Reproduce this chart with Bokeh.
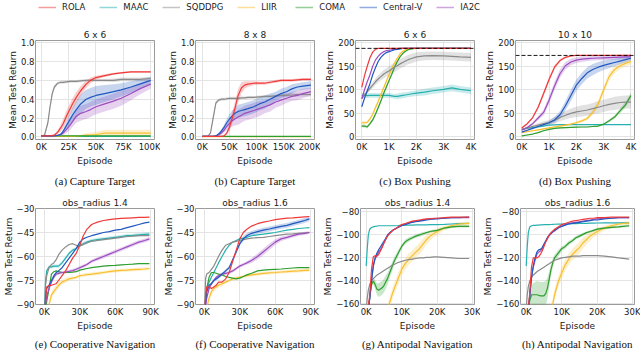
import numpy as np
from bokeh.plotting import figure
from bokeh.layouts import column, row
from bokeh.models import Range1d, FixedTicker, Span, Title, Legend, LegendItem
from bokeh.embed import file_html
from bokeh.resources import INLINE

METHODS = ["ROLA", "MAAC", "SQDDPG", "LIIR", "COMA", "Central-V", "IA2C"]
COLORS = {"ROLA": "#f03a3a", "MAAC": "#26b0b0", "SQDDPG": "#8a8a8a", "LIIR": "#f8c030",
          "COMA": "#2e9e2e", "Central-V": "#2058c0", "IA2C": "#9c4dbf"}
DRAW_ORDER = ["MAAC", "LIIR", "COMA", "SQDDPG", "IA2C", "Central-V", "ROLA"]

# ---------------- (a) Capture Target 6 x 6 ----------------
X_A = [0, 3, 6, 8, 10, 12, 15, 18, 20, 23, 26, 29, 32, 36, 41, 45, 50, 58, 66, 73, 82, 90, 100]
A_ROLA = [0.01, 0.01, 0.01, 0.01, 0.015, 0.02, 0.05, 0.1, 0.14, 0.22, 0.29, 0.36, 0.42, 0.49, 0.56, 0.6, 0.63, 0.65, 0.67, 0.68, 0.69, 0.69, 0.69]
A_MAAC = [0.005, 0.005, 0.005, 0.005, 0.005, 0.005, 0.005, 0.005, 0.005, 0.005, 0.005, 0.005, 0.005, 0.005, 0.005, 0.005, 0.005, 0.005, 0.005, 0.005, 0.005, 0.005, 0.005]
A_SQDDPG = [0.01, 0.02, 0.15, 0.32, 0.46, 0.53, 0.57, 0.58, 0.58, 0.585, 0.59, 0.59, 0.59, 0.595, 0.6, 0.6, 0.6, 0.6, 0.6, 0.61, 0.61, 0.61, 0.62]
A_LIIR = [0.005, 0.005, 0.005, 0.005, 0.005, 0.005, 0.005, 0.005, 0.005, 0.005, 0.005, 0.005, 0.008, 0.01, 0.02, 0.02, 0.025, 0.04, 0.04, 0.04, 0.04, 0.04, 0.04]
A_COMA = [0.01, 0.01, 0.01, 0.01, 0.01, 0.01, 0.01, 0.01, 0.01, 0.01, 0.01, 0.01, 0.01, 0.01, 0.01, 0.01, 0.01, 0.01, 0.01, 0.01, 0.01, 0.01, 0.01]
A_CENTRALV = [0.01, 0.01, 0.01, 0.01, 0.01, 0.012, 0.015, 0.03, 0.06, 0.12, 0.18, 0.24, 0.29, 0.35, 0.4, 0.42, 0.44, 0.46, 0.48, 0.5, 0.53, 0.56, 0.6]
A_IA2C = [0.01, 0.01, 0.01, 0.01, 0.01, 0.01, 0.015, 0.025, 0.04, 0.08, 0.12, 0.17, 0.22, 0.25, 0.27, 0.29, 0.32, 0.35, 0.38, 0.41, 0.46, 0.51, 0.56]
A_ROLA_SD = [0, 0, 0, 0, 0.005, 0.01, 0.02, 0.04, 0.05, 0.06, 0.06, 0.06, 0.06, 0.05, 0.04, 0.03, 0.02, 0.015, 0.01, 0.01, 0.01, 0.01, 0.01]
A_SQDDPG_SD = [0, 0.005, 0.02, 0.03, 0.03, 0.02, 0.015, 0.015, 0.015, 0.015, 0.015, 0.015, 0.015, 0.015, 0.015, 0.015, 0.015, 0.015, 0.02, 0.02, 0.02, 0.02, 0.02]
A_CENTRALV_SD = [0, 0, 0, 0, 0, 0, 0.005, 0.01, 0.02, 0.04, 0.06, 0.08, 0.09, 0.1, 0.1, 0.1, 0.1, 0.09, 0.08, 0.07, 0.06, 0.05, 0.04]
A_IA2C_SD = [0, 0, 0, 0, 0, 0, 0.005, 0.01, 0.02, 0.04, 0.05, 0.06, 0.07, 0.08, 0.08, 0.08, 0.08, 0.08, 0.08, 0.08, 0.07, 0.06, 0.05]
A_LIIR_SD = [0, 0, 0, 0, 0, 0, 0, 0, 0, 0, 0, 0, 0.005, 0.01, 0.02, 0.025, 0.03, 0.035, 0.035, 0.035, 0.035, 0.035, 0.035]

# ---------------- (b) Capture Target 8 x 8 ----------------
X_B = [0, 10, 15, 20, 25, 30, 35, 40, 45, 50, 55, 60, 66, 72, 78, 84, 95, 105, 115, 125, 135, 145, 155, 165, 175, 185, 200]
B_ROLA = [0.005, 0.005, 0.005, 0.005, 0.005, 0.005, 0.005, 0.01, 0.04, 0.1, 0.2, 0.3, 0.44, 0.52, 0.55, 0.56, 0.57, 0.57, 0.57, 0.58, 0.59, 0.6, 0.6, 0.6, 0.605, 0.61, 0.61]
B_MAAC = [0.004, 0.004, 0.004, 0.004, 0.004, 0.004, 0.004, 0.004, 0.004, 0.004, 0.004, 0.004, 0.004, 0.004, 0.004, 0.004, 0.004, 0.004, 0.004, 0.004, 0.004, 0.004, 0.004, 0.004, 0.004, 0.004, 0.004]
B_SQDDPG = [0.005, 0.005, 0.04, 0.2, 0.36, 0.39, 0.4, 0.4, 0.405, 0.41, 0.41, 0.41, 0.41, 0.415, 0.415, 0.42, 0.42, 0.425, 0.43, 0.43, 0.435, 0.44, 0.44, 0.445, 0.45, 0.45, 0.45]
B_LIIR = [0.003, 0.003, 0.003, 0.003, 0.003, 0.003, 0.003, 0.003, 0.003, 0.003, 0.003, 0.003, 0.003, 0.003, 0.003, 0.003, 0.003, 0.003, 0.003, 0.003, 0.003, 0.003, 0.003, 0.003, 0.003, 0.003, 0.003]
B_COMA = [0.005, 0.005, 0.005, 0.005, 0.005, 0.005, 0.005, 0.005, 0.005, 0.005, 0.005, 0.005, 0.005, 0.005, 0.005, 0.005, 0.005, 0.005, 0.005, 0.005, 0.005, 0.005, 0.005, 0.005, 0.005, 0.005, 0.005]
B_CENTRALV = [0.005, 0.005, 0.005, 0.005, 0.01, 0.03, 0.06, 0.1, 0.15, 0.19, 0.22, 0.25, 0.27, 0.28, 0.29, 0.3, 0.32, 0.35, 0.37, 0.4, 0.43, 0.46, 0.48, 0.51, 0.53, 0.54, 0.55]
B_IA2C = [0.005, 0.005, 0.005, 0.005, 0.01, 0.02, 0.04, 0.07, 0.11, 0.14, 0.17, 0.19, 0.21, 0.23, 0.25, 0.26, 0.28, 0.3, 0.32, 0.34, 0.37, 0.39, 0.41, 0.43, 0.44, 0.46, 0.48]
B_ROLA_SD = [0, 0, 0, 0, 0, 0, 0, 0.005, 0.02, 0.04, 0.06, 0.07, 0.07, 0.06, 0.04, 0.03, 0.02, 0.015, 0.015, 0.015, 0.015, 0.015, 0.015, 0.015, 0.015, 0.015, 0.015]
B_SQDDPG_SD = [0, 0, 0.01, 0.03, 0.02, 0.015, 0.015, 0.015, 0.015, 0.015, 0.015, 0.015, 0.015, 0.015, 0.015, 0.015, 0.015, 0.015, 0.015, 0.015, 0.015, 0.015, 0.02, 0.02, 0.02, 0.02, 0.02]
B_CENTRALV_SD = [0, 0, 0, 0, 0.005, 0.01, 0.02, 0.03, 0.04, 0.05, 0.06, 0.06, 0.07, 0.07, 0.07, 0.07, 0.07, 0.07, 0.07, 0.06, 0.05, 0.05, 0.05, 0.05, 0.04, 0.04, 0.04]
B_IA2C_SD = [0, 0, 0, 0, 0.005, 0.01, 0.02, 0.03, 0.04, 0.05, 0.06, 0.07, 0.08, 0.08, 0.08, 0.08, 0.08, 0.08, 0.07, 0.07, 0.06, 0.06, 0.05, 0.05, 0.05, 0.05, 0.04]

# ---------------- (c) Box Pushing 6 x 6 ----------------
X_C = [0, 0.1, 0.2, 0.3, 0.4, 0.5, 0.6, 0.7, 0.8, 0.9, 1.0, 1.1, 1.2, 1.3, 1.4, 1.5, 1.6, 1.7, 1.8, 2.0, 2.3, 2.6, 3.0, 3.3, 3.6, 4.0]
C_ROLA = [105, 130, 150, 168, 180, 186, 188, 188, 188, 188, 188, 188, 188, 188, 188, 188, 188, 188, 188, 188, 188, 188, 188, 188, 188, 188]
C_MAAC = [88, 88, 87.5, 88, 88, 88, 88, 88, 88, 88, 88, 87, 86, 86, 87, 88, 89, 90, 91, 93, 95, 98, 101, 104, 101, 98]
C_SQDDPG = [81, 89, 96, 103, 110, 117, 123, 128, 133, 137, 140, 144, 148, 151, 155, 158, 161, 164, 166, 170, 172, 172.5, 172, 171, 170, 169]
C_LIIR = [30, 30, 31, 38, 48, 62, 75, 90, 104, 118, 132, 145, 157, 167, 176, 182, 185, 187, 188, 188, 188, 188, 188, 188, 188, 188]
C_COMA = [23, 23, 21, 28, 36, 48, 62, 76, 92, 106, 120, 133, 148, 160, 170, 177, 182, 185, 187, 188, 188, 188, 188, 188, 188, 188]
C_CENTRALV = [64, 82, 98, 113, 132, 147, 160, 169, 175, 179, 181, 183, 185, 186, 187, 188, 188, 188, 188, 188, 188, 188, 188, 188, 188, 188]
C_IA2C = [81, 100, 117, 132, 150, 163, 171, 177, 181, 183, 184, 185, 186, 187, 188, 188, 188, 188, 188, 188, 188, 188, 188, 188, 188, 188]
C_SQDDPG_SD = [2, 3, 4, 5, 6, 7, 8, 8, 9, 9, 10, 10, 10, 10, 10, 10, 10, 10, 10, 10, 9, 9, 9, 9, 9, 9]
C_MAAC_SD = [5, 5, 5, 5, 5, 5, 5, 5, 5, 5, 5, 5, 5, 6, 6, 6, 6, 6, 6, 6, 7, 7, 7, 7, 7, 7]
C_LIIR_SD = [3, 3, 3, 3, 4, 4, 4, 4, 4, 4, 4, 3, 3, 2, 2, 1, 1, 1, 0, 0, 0, 0, 0, 0, 0, 0]
C_COMA_SD = [3, 3, 3, 3, 4, 4, 4, 4, 4, 4, 4, 3, 3, 2, 2, 1, 1, 1, 0, 0, 0, 0, 0, 0, 0, 0]
C_OPTIMAL = 188

# ---------------- (d) Box Pushing 10 x 10 ----------------
X_D = [0, 0.2, 0.4, 0.6, 0.8, 1.0, 1.2, 1.4, 1.6, 1.8, 2.0, 2.2, 2.4, 2.6, 2.8, 3.0, 3.2, 3.4, 3.6, 3.8, 4.0]
D_ROLA = [19, 28, 41, 63, 92, 122, 148, 162, 169, 172, 173, 173, 173, 173, 173, 173, 173, 173, 173, 173, 173]
D_MAAC = [16, 18, 20, 21, 23, 25, 25.5, 26, 26, 26, 26, 26, 26, 26, 26, 26, 26, 26, 26, 26, 26]
D_SQDDPG = [16, 19, 22, 25, 28, 30, 35, 41, 46, 50, 53, 55, 57, 60, 63, 66, 69, 71, 73, 74, 74]
D_LIIR = [9, 11, 13, 15, 17, 19, 21, 23, 25, 27, 30, 34, 39, 52, 70, 100, 128, 143, 151, 156, 160]
D_COMA = [2, 4, 6, 9, 13, 16, 18, 19, 19.5, 20, 20.5, 21, 21, 22, 23, 27, 34, 42, 55, 68, 88]
D_CENTRALV = [10, 14, 18, 22, 26, 30, 36, 47, 66, 88, 110, 124, 136, 143, 148, 152, 155, 158, 161, 164, 167]
D_IA2C = [14, 20, 28, 40, 52, 78, 108, 134, 151, 159, 163, 165, 166, 167, 167.5, 168, 168.5, 169, 169.5, 170, 170]
D_ROLA_SD = [2, 2, 3, 4, 5, 5, 4, 3, 2, 1, 1, 1, 1, 1, 1, 1, 1, 1, 1, 1, 1]
D_IA2C_SD = [2, 2, 3, 4, 6, 8, 9, 9, 8, 7, 6, 6, 5, 5, 5, 5, 5, 5, 5, 5, 5]
D_CENTRALV_SD = [1, 1, 2, 2, 3, 4, 6, 8, 10, 12, 12, 12, 12, 12, 11, 10, 9, 8, 7, 6, 5]
D_SQDDPG_SD = [2, 2, 3, 4, 5, 6, 7, 8, 9, 10, 11, 12, 12, 12, 13, 13, 13, 14, 14, 14, 14]
D_LIIR_SD = [1, 1, 1, 1, 1, 1, 2, 2, 2, 2, 3, 3, 4, 5, 7, 8, 9, 8, 7, 6, 6]
D_COMA_SD = [1, 1, 1, 1, 1, 1, 1, 1, 1, 1, 1, 1, 1, 1, 2, 2, 3, 4, 5, 6, 7]
D_OPTIMAL = 173

# ---------------- (e), (f) Cooperative Navigation ----------------
X_COOP = [0, 1, 2, 4, 6, 8, 10, 12, 15, 18, 21, 24, 27, 30, 33, 36, 40, 45, 50, 55, 60, 65, 70, 75, 80, 85, 89]
E_ROLA = [-100, -88, -79, -78, -78, -77.5, -77, -75, -72, -69, -65, -61, -58, -53, -47, -43, -40, -38.5, -37.5, -37, -36.5, -36.2, -36, -35.8, -35.6, -35.5, -35.4]
E_MAAC = [-100, -75, -69, -66.5, -66.5, -66, -66, -66, -64, -61, -58, -56, -55, -53, -52, -51, -50, -49.5, -49, -48.5, -48, -47.5, -47, -46.8, -46.5, -46.2, -46]
E_SQDDPG = [-100, -78, -72, -67, -65, -64, -62, -59, -56, -54, -52.5, -52, -53, -53.5, -52.5, -51.5, -50.5, -50, -49.5, -49, -48.5, -48, -47.5, -47.3, -47, -47, -47]
E_LIIR = [-110, -100, -95, -90, -84, -82, -80, -78, -76, -75, -74, -73.5, -73, -72, -71.7, -71.3, -71, -70.5, -70, -69.5, -69, -68.7, -68.5, -68.2, -68, -67.8, -67.5]
E_COMA = [-100, -95, -88, -80, -71, -69.5, -69, -69.5, -70, -70, -70, -69.8, -69.5, -68.5, -68, -67.5, -67, -66.5, -66, -65.7, -65.5, -65.2, -65, -64.8, -64.5, -64.5, -64.5]
E_CENTRALV = [-100, -86, -80, -78, -75, -72, -70, -69, -67, -64, -61, -58, -55, -51, -49, -48, -47, -46, -45, -44.5, -43.5, -43, -42, -41, -40, -39, -38.5]
E_IA2C = [-100, -90, -85, -80, -76, -73, -71, -70.5, -70, -69.7, -69.3, -68.8, -68, -67, -66, -65, -63, -61.5, -60, -58.5, -57, -55.5, -54, -52.5, -51, -50, -49]
E_IA2C_SD = [0, 1, 1, 1, 1, 1, 1, 1, 1, 1, 1, 1, 1, 1, 1, 1, 1, 1.2, 1.2, 1.2, 1.2, 1.2, 1.2, 1.2, 1.2, 1.2, 1.2]
E_MAAC_SD = [0, 1, 1, 1, 1, 1, 1, 1, 1, 1, 1, 1, 1, 1, 1, 1, 1, 1, 1, 1, 1, 1, 1, 1, 1, 1, 1]
E_LIIR_SD = [0, 2, 2, 2, 2, 2, 2, 2, 1.5, 1.5, 1, 1, 1, 1, 1, 1, 1, 1, 1, 1, 1, 1, 1, 1, 1, 1, 1]

F_ROLA = [-100, -85, -79, -79, -80, -79, -78, -76, -76, -74, -70, -63, -56, -49, -45, -43, -41, -39.5, -38.5, -37.8, -37, -36.5, -36, -35.8, -35.5, -35.2, -35]
F_MAAC = [-100, -85, -80, -76, -73, -70, -67, -64, -60, -56, -53, -51, -50, -49, -48.5, -48, -47, -46.5, -46, -45.5, -45, -44.2, -43.5, -43, -42.5, -42.2, -42]
F_SQDDPG = [-100, -74, -71, -70, -68, -66, -63, -60, -56, -53, -52, -51, -50.5, -50, -49.5, -49, -48.5, -48.2, -48, -47.5, -47, -46.5, -46, -45.8, -45.5, -45.2, -45]
F_LIIR = [-110, -98, -92, -86, -82, -80, -79, -78, -77, -76, -75, -74, -73.5, -73, -72.5, -72, -71.5, -71, -70.5, -70.2, -70, -69.7, -69.5, -69.2, -69, -68.7, -68.5]
F_COMA = [-100, -88, -80, -73, -70, -70, -70.5, -71, -71.5, -72.5, -73, -73.5, -74, -73.5, -72.5, -71.5, -70.5, -69, -68.5, -68.2, -68, -67.8, -67.5, -67.2, -67, -67, -67]
F_CENTRALV = [-100, -88, -82, -78, -77, -75, -74, -73, -71, -69, -67, -62, -57, -52, -49, -47, -45.5, -44.5, -43.5, -42.8, -42, -41.2, -40.5, -39.5, -38.5, -37.5, -36.5]
F_IA2C = [-100, -92, -86, -80, -77, -75, -73, -72, -71, -70.5, -70, -69, -67.5, -66, -65, -64, -62.5, -60, -57, -54, -51, -49, -48, -47, -46, -45.5, -45]
F_IA2C_SD = [0, 1, 1, 1, 1, 1, 1, 1, 1, 1, 1, 1, 1, 1, 1, 1, 1.5, 1.8, 2, 2, 1.8, 1.5, 1.2, 1.2, 1, 1, 1]
F_CENTRALV_SD = [0, 1, 1, 1, 1, 1, 1, 1, 1, 1, 1, 1, 1.5, 1.5, 1.5, 1.5, 1.5, 1.5, 1.5, 1.5, 1.5, 1.5, 1.5, 1.5, 1.5, 1.5, 1.5]
F_LIIR_SD = [0, 2, 2, 2, 2, 2, 1.5, 1.5, 1.5, 1, 1, 1, 1, 1, 1, 1, 1, 1, 1, 1, 1, 1, 1, 1, 1, 1, 1]

# ---------------- (g), (h) Antipodal Navigation ----------------
X_ANTI = [0, 0.3, 0.6, 1, 1.5, 2, 2.5, 3, 3.5, 4, 4.5, 5, 5.5, 6, 6.5, 7, 7.5, 8, 9, 10, 11, 12, 13, 14, 15, 16, 17, 18, 19, 20, 22, 24, 26, 29]
G_ROLA = [-175, -170, -163, -152, -130, -119, -118, -118.5, -117, -114, -111, -107, -104, -101, -99, -97.5, -96, -95, -93, -91, -90, -89, -88, -87.5, -87, -86.5, -86, -86, -85.5, -85.5, -85, -84.5, -84.5, -84.5]
G_MAAC = [-127, -112, -100, -95, -93.5, -93, -92.5, -92.3, -92, -92, -92, -92, -92, -92, -92, -92, -92, -92, -91.8, -91.5, -91.5, -91.4, -91.4, -91.3, -91.3, -91.2, -91.2, -91.1, -91, -91, -90.8, -90.5, -90.2, -90]
G_SQDDPG = [-165, -155, -148, -143, -140, -138, -136.5, -135, -134, -133, -132, -131, -130, -129, -128, -127, -126, -125.5, -124, -123, -122, -121.5, -121, -120.5, -120, -120, -119.5, -119.5, -119, -119, -119.5, -120, -120.5, -120.5]
G_LIIR = [-180, -180, -180, -180, -180, -180, -180, -180, -180, -180, -178, -175, -170, -165, -160, -155, -150, -146, -138, -130, -125, -121, -118, -115, -112, -108, -104, -101, -99, -97, -94, -92, -90.5, -90]
G_COMA = [-175, -172, -165, -155, -143, -140, -143, -147, -148, -147, -146, -144, -141, -138, -134, -130, -126, -122, -116, -110, -106, -104, -102.5, -101, -100, -99, -98, -97, -96.5, -96, -94, -93, -92.5, -92.5]
G_CENTRALV = [-175, -172, -165, -155, -140, -127, -120, -116, -113, -110.5, -108, -105.5, -103, -100, -98.5, -97, -96, -95, -93.5, -92, -91, -90, -89, -88.5, -88, -87.5, -87, -86.5, -86, -86, -85.5, -85, -85, -84.5]
G_IA2C = [-175, -172, -165, -155, -140, -127, -121, -118, -115, -113, -110, -107, -104, -101, -99, -97.5, -96, -95, -93, -91.5, -90.5, -89.5, -88.5, -88, -87.5, -87, -86.5, -86, -86, -85.5, -85.5, -85, -85, -85]
G_COMA_SD = [0, 0, 0, 1, 2, 3, 4, 5, 6, 6, 6, 6, 6, 5, 5, 4, 4, 3, 3, 2, 2, 2, 1.5, 1.5, 1.5, 1.5, 1, 1, 1, 1, 1, 1, 1, 1]
G_LIIR_SD = [0, 0, 0, 0, 0, 0, 0, 0, 0, 0, 3, 3, 4, 4, 5, 5, 5, 5, 5, 5, 5, 5, 5, 5, 5, 5, 4, 4, 3, 3, 2, 2, 1.5, 1.5]

H_ROLA = [-175, -172, -165, -150, -128, -120, -120, -120, -119, -117, -114, -110, -106, -103, -100, -98, -96.5, -95, -93, -91, -90, -89, -88, -87.5, -87, -86.5, -86, -85.5, -85.5, -85, -85, -84.5, -84.5, -84.5]
H_MAAC = [-127, -110, -98, -93, -92, -91.7, -91.6, -91.5, -91.4, -91.3, -91.2, -91.1, -91, -91, -91, -90.9, -90.8, -90.7, -90.6, -90.5, -90.4, -90.3, -90.2, -90.1, -90, -90, -89.9, -89.8, -89.7, -89.6, -89.5, -89.5, -89.5, -89.5]
H_SQDDPG = [-165, -152, -145, -140, -137, -135, -133.5, -132, -131, -130, -129, -128, -127, -126, -125, -124, -123, -122, -121, -120, -119.5, -119, -118.5, -118.5, -118.5, -118, -118, -118, -118, -118, -118.5, -119, -120, -121]
H_LIIR = [-185, -185, -185, -185, -185, -185, -185, -185, -185, -185, -185, -185, -185, -180, -172, -165, -160, -152, -141, -133, -126, -121, -117, -114, -111, -107, -104, -101, -99, -97, -94, -92, -90.5, -89.5]
H_COMA = [-175, -172, -165, -157, -152, -152, -152, -152, -152.5, -153, -153, -153, -151, -146, -138, -130, -124, -120, -116, -112, -110, -107, -105, -102.5, -101, -99.5, -98, -97, -96, -95, -94, -93.5, -93, -92]
H_CENTRALV = [-175, -172, -165, -153, -137, -127, -120, -115, -113, -112.5, -111, -108, -105, -102, -100, -98.5, -97, -96, -94, -92.5, -91.5, -90.5, -90, -89.5, -89, -88.5, -88, -87.5, -87, -87, -86, -85.5, -85, -85]
H_IA2C = [-175, -172, -165, -153, -137, -128, -122, -117, -115, -114, -112, -109, -106, -103, -100.5, -99, -97.5, -96.5, -94, -92.5, -91, -90, -89.5, -89, -88.5, -88, -87.5, -87, -86.5, -86, -85.5, -85.5, -85, -85]
H_COMA_SD = [0, 0, 0, 3, 8, 10, 11, 12, 12, 12, 12, 12, 11, 9, 7, 5, 4, 3, 3, 2, 2, 2, 1.5, 1.5, 1.5, 1.5, 1, 1, 1, 1, 1, 1, 1, 1]
H_LIIR_SD = [0, 0, 0, 0, 0, 0, 0, 0, 0, 0, 0, 0, 0, 4, 4, 5, 5, 5, 5, 5, 5, 5, 5, 5, 5, 5, 4, 4, 3, 3, 2, 2, 1.5, 1.5]

# ---------------- ticks and labels ----------------
TICKS_CAP_Y = [0.0, 0.2, 0.4, 0.6, 0.8, 1.0]
LABELS_CAP_Y = ["0.0", "0.2", "0.4", "0.6", "0.8", "1.0"]
TICKS_A_X = [0, 25, 50, 75, 100]
LABELS_A_X = ["0K", "25K", "50K", "75K", "100K"]
TICKS_B_X = [0, 50, 100, 150, 200]
LABELS_B_X = ["0K", "50K", "100K", "150K", "200K"]
TICKS_BOX_Y = [0, 50, 100, 150, 200]
LABELS_BOX_Y = ["0", "50", "100", "150", "200"]
TICKS_BOX_X = [0, 1, 2, 3, 4]
LABELS_BOX_X = ["0K", "1K", "2K", "3K", "4K"]
TICKS_COOP_Y = [-90, -75, -60, -45, -30]
LABELS_COOP_Y = ["\u221290", "\u221275", "\u221260", "\u221245", "\u221230"]
TICKS_COOP_X = [0, 30, 60, 90]
LABELS_COOP_X = ["0K", "30K", "60K", "90K"]
TICKS_ANTI_Y = [-160, -140, -120, -100, -80]
LABELS_ANTI_Y = ["\u2212160", "\u2212140", "\u2212120", "\u2212100", "\u221280"]
TICKS_ANTI_X = [0, 10, 20, 30]
LABELS_ANTI_X = ["0K", "10K", "20K", "30K"]

FONT = "DejaVu Sans"
CELL_W = 160


def panel(title, caption, xs, ys, sds, xlim, ylim, xt, xl, yt, yl,
          height, top, bottom, cap_standoff, optimal=None):
    p = figure(width=CELL_W, height=height, output_backend="svg", toolbar_location=None,
               x_range=Range1d(*xlim), y_range=Range1d(*ylim),
               min_border_left=35, min_border_right=6, min_border_top=top,
               min_border_bottom=bottom, title=title)
    p.title.align = "center"
    p.title.text_font = FONT
    p.title.text_font_size = "9px"
    p.title.text_font_style = "normal"
    p.title.text_color = "#1a1a1a"
    p.title.standoff = 1
    p.outline_line_color = "#9a9a9a"
    p.outline_line_width = 1
    p.grid.grid_line_color = "#e4e4e4"
    p.grid.grid_line_width = 1
    p.background_fill_color = "white"
    for ax in (p.xaxis[0], p.yaxis[0]):
        ax.axis_line_color = None
        ax.major_tick_out = 0
        ax.major_tick_in = 0
        ax.minor_tick_out = 0
        ax.minor_tick_in = 0
        ax.major_label_text_font = FONT
        ax.major_label_text_font_size = "8.5px"
        ax.major_label_text_color = "#1a1a1a"
        ax.axis_label_text_font = FONT
        ax.axis_label_text_font_size = "9px"
        ax.axis_label_text_font_style = "normal"
        ax.axis_label_text_color = "#1a1a1a"
    p.xaxis.major_label_standoff = 2
    p.xaxis.axis_label_standoff = 1
    p.yaxis.major_label_standoff = 1
    p.yaxis.axis_label_standoff = 0
    p.xaxis.axis_label = "Episode"
    p.yaxis.axis_label = "Mean Test Return"
    p.xaxis.ticker = FixedTicker(ticks=xt)
    p.yaxis.ticker = FixedTicker(ticks=yt)
    p.xaxis.major_label_overrides = {t: s for t, s in zip(xt, xl)}
    p.yaxis.major_label_overrides = {t: s for t, s in zip(yt, yl)}

    x = np.array(xs, dtype=float)
    for m in DRAW_ORDER:
        if m in sds:
            y = np.array(ys[m], dtype=float)
            sd = np.array(sds[m], dtype=float)
            p.varea(x=x, y1=y - sd, y2=y + sd, fill_color=COLORS[m], fill_alpha=0.25)
    for m in DRAW_ORDER:
        p.line(x, np.array(ys[m], dtype=float), line_color=COLORS[m], line_width=1.2)
    if optimal is not None:
        p.add_layout(Span(location=optimal, dimension="width", line_color="black",
                          line_dash="4 2", line_width=0.9))

    cap = Title(text=caption, align="center", text_font="Liberation Serif",
                text_font_size="11px", text_font_style="normal", text_color="#111111",
                standoff=cap_standoff)
    p.add_layout(cap, "below")
    return p


TOP = dict(height=177, top=27, bottom=48, cap_standoff=8)
BOT = dict(height=162, top=18, bottom=43, cap_standoff=5)

pa = panel("6 x 6", "(a) Capture Target", X_A,
           {"ROLA": A_ROLA, "MAAC": A_MAAC, "SQDDPG": A_SQDDPG, "LIIR": A_LIIR, "COMA": A_COMA,
            "Central-V": A_CENTRALV, "IA2C": A_IA2C},
           {"ROLA": A_ROLA_SD, "SQDDPG": A_SQDDPG_SD, "Central-V": A_CENTRALV_SD,
            "IA2C": A_IA2C_SD, "LIIR": A_LIIR_SD},
           (-5.3, 103.5), (-0.028, 1.024), TICKS_A_X, LABELS_A_X, TICKS_CAP_Y, LABELS_CAP_Y, **TOP)
pb = panel("8 x 8", "(b) Capture Target", X_B,
           {"ROLA": B_ROLA, "MAAC": B_MAAC, "SQDDPG": B_SQDDPG, "LIIR": B_LIIR, "COMA": B_COMA,
            "Central-V": B_CENTRALV, "IA2C": B_IA2C},
           {"ROLA": B_ROLA_SD, "SQDDPG": B_SQDDPG_SD, "Central-V": B_CENTRALV_SD, "IA2C": B_IA2C_SD},
           (-12.5, 206.6), (-0.028, 1.024), TICKS_B_X, LABELS_B_X, TICKS_CAP_Y, LABELS_CAP_Y, **TOP)
pc = panel("6 x 6", "(c) Box Pushing", X_C,
           {"ROLA": C_ROLA, "MAAC": C_MAAC, "SQDDPG": C_SQDDPG, "LIIR": C_LIIR, "COMA": C_COMA,
            "Central-V": C_CENTRALV, "IA2C": C_IA2C},
           {"SQDDPG": C_SQDDPG_SD, "MAAC": C_MAAC_SD, "LIIR": C_LIIR_SD, "COMA": C_COMA_SD},
           (-0.23, 4.13), (-5.6, 204.7), TICKS_BOX_X, LABELS_BOX_X, TICKS_BOX_Y, LABELS_BOX_Y,
           optimal=C_OPTIMAL, **TOP)
pd_ = panel("10 x 10", "(d) Box Pushing", X_D,
            {"ROLA": D_ROLA, "MAAC": D_MAAC, "SQDDPG": D_SQDDPG, "LIIR": D_LIIR, "COMA": D_COMA,
             "Central-V": D_CENTRALV, "IA2C": D_IA2C},
            {"ROLA": D_ROLA_SD, "IA2C": D_IA2C_SD, "Central-V": D_CENTRALV_SD,
             "SQDDPG": D_SQDDPG_SD, "LIIR": D_LIIR_SD, "COMA": D_COMA_SD},
            (-0.23, 4.13), (-5.6, 204.7), TICKS_BOX_X, LABELS_BOX_X, TICKS_BOX_Y, LABELS_BOX_Y,
            optimal=D_OPTIMAL, **TOP)
pe = panel("obs_radius 1.4", "(e) Cooperative Navigation", X_COOP,
           {"ROLA": E_ROLA, "MAAC": E_MAAC, "SQDDPG": E_SQDDPG, "LIIR": E_LIIR, "COMA": E_COMA,
            "Central-V": E_CENTRALV, "IA2C": E_IA2C},
           {"IA2C": E_IA2C_SD, "MAAC": E_MAAC_SD, "LIIR": E_LIIR_SD},
           (-7.5, 93.3), (-90, -30), TICKS_COOP_X, LABELS_COOP_X, TICKS_COOP_Y, LABELS_COOP_Y, **BOT)
pf = panel("obs_radius 1.6", "(f) Cooperative Navigation", X_COOP,
           {"ROLA": F_ROLA, "MAAC": F_MAAC, "SQDDPG": F_SQDDPG, "LIIR": F_LIIR, "COMA": F_COMA,
            "Central-V": F_CENTRALV, "IA2C": F_IA2C},
           {"IA2C": F_IA2C_SD, "Central-V": F_CENTRALV_SD, "LIIR": F_LIIR_SD},
           (-7.5, 93.3), (-90, -30), TICKS_COOP_X, LABELS_COOP_X, TICKS_COOP_Y, LABELS_COOP_Y, **BOT)
pg = panel("obs_radius 1.4", "(g) Antipodal Navigation", X_ANTI,
           {"ROLA": G_ROLA, "MAAC": G_MAAC, "SQDDPG": G_SQDDPG, "LIIR": G_LIIR, "COMA": G_COMA,
            "Central-V": G_CENTRALV, "IA2C": G_IA2C},
           {"COMA": G_COMA_SD, "LIIR": G_LIIR_SD},
           (-1.6, 30.5), (-160.5, -77), TICKS_ANTI_X, LABELS_ANTI_X, TICKS_ANTI_Y, LABELS_ANTI_Y, **BOT)
ph = panel("obs_radius 1.6", "(h) Antipodal Navigation", X_ANTI,
           {"ROLA": H_ROLA, "MAAC": H_MAAC, "SQDDPG": H_SQDDPG, "LIIR": H_LIIR, "COMA": H_COMA,
            "Central-V": H_CENTRALV, "IA2C": H_IA2C},
           {"COMA": H_COMA_SD, "LIIR": H_LIIR_SD},
           (-1.6, 30.5), (-160.5, -77), TICKS_ANTI_X, LABELS_ANTI_X, TICKS_ANTI_Y, LABELS_ANTI_Y, **BOT)

# ---------------- legend strip ----------------
leg = figure(width=4 * CELL_W, height=13, output_backend="svg", toolbar_location=None,
             x_range=Range1d(0, 1), y_range=Range1d(0, 1), min_border=0)
leg.axis.visible = False
leg.grid.visible = False
leg.outline_line_color = None
items = []
for m in METHODS:
    # a single NaN point: nothing is drawn in the strip, only the legend swatch
    r = leg.line(x=[np.nan], y=[np.nan], line_color=COLORS[m], line_width=1.5, line_alpha=0.5)
    items.append(LegendItem(label=m, renderers=[r]))
legend = Legend(items=items, orientation="horizontal", location="center_left",
                glyph_width=18, glyph_height=8, label_standoff=6, spacing=14,
                padding=0, margin=38, border_line_color=None, background_fill_alpha=0,
                label_text_font=FONT, label_text_font_size="8.5px", label_height=9,
                label_text_color="#1a1a1a")
leg.add_layout(legend, "center")

layout = column(leg, row(pa, pb, pc, pd_), row(pe, pf, pg, ph))

with open("out.html", "w") as f:
    f.write(file_html(layout, INLINE))
